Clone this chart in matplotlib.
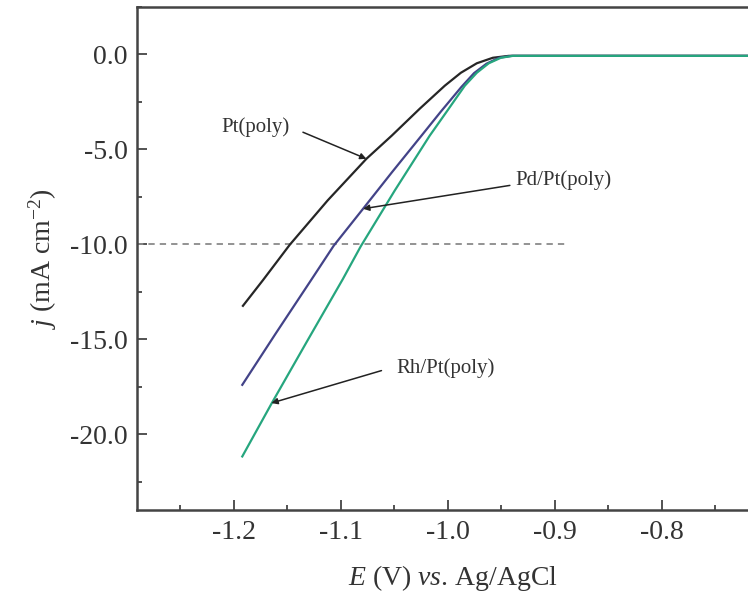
import matplotlib
matplotlib.use("Agg")
import matplotlib.pyplot as plt
from matplotlib.ticker import MultipleLocator, FormatStrFormatter

plt.rcParams['font.family'] = ['Liberation Serif', 'DejaVu Serif']
plt.rcParams['mathtext.fontset'] = 'custom'
plt.rcParams['mathtext.rm'] = 'Liberation Serif'
plt.rcParams['mathtext.it'] = 'Liberation Serif:italic'

# ---- data ----
E_pt = [-1.1913, -1.1726, -1.1476, -1.1121, -1.0759, -1.0522, -1.0260, -1.0026,
        -0.9876, -0.9727, -0.9577, -0.9428, -0.90, -0.80, -0.70]
j_pt = [-13.25, -11.90, -10.04, -7.70, -5.51, -4.29, -2.87, -1.66,
        -0.98, -0.48, -0.19, -0.09, -0.09, -0.09, -0.09]

E_pd = [-1.1919, -1.1607, -1.1280, -1.1065, -1.0790, -1.0522, -1.0244, -1.0064,
        -0.9870, -0.9753, -0.9636, -0.9519, -0.9402, -0.90, -0.80, -0.70]
j_pd = [-17.41, -14.71, -11.93, -10.09, -8.14, -6.23, -4.29, -3.03,
        -1.72, -1.00, -0.50, -0.19, -0.09, -0.09, -0.09, -0.09]

E_rh = [-1.1919, -1.1647, -1.1317, -1.0980, -1.0812, -1.0494, -1.0167, -1.0003,
        -0.9839, -0.9727, -0.9615, -0.9502, -0.9390, -0.90, -0.80, -0.70]
j_rh = [-21.18, -18.41, -15.15, -11.85, -10.12, -7.18, -4.29, -2.98,
        -1.66, -0.98, -0.48, -0.19, -0.09, -0.09, -0.09, -0.09]

ref_E = [-1.29, -0.89]
ref_j = [-10.0, -10.0]

labels = ["Pt(poly)", "Pd/Pt(poly)", "Rh/Pt(poly)"]
label_xy = [(-1.2115, -3.85), (-0.9371, -6.65), (-1.0478, -16.54)]
arrow_tail = [(-1.1352, -4.11), (-0.9418, -6.91), (-1.0618, -16.66)]
arrow_tip = [(-1.0759, -5.51), (-1.079, -8.14), (-1.1647, -18.37)]

xticks = [-1.2, -1.1, -1.0, -0.9, -0.8]
yticks = [0.0, -5.0, -10.0, -15.0, -20.0]

# ---- figure ----
fig = plt.figure(figsize=(7.48, 6.01), dpi=100)
ax = fig.add_axes([0.1836, 0.1514, 0.8439, 0.8375])

ax.plot(ref_E, ref_j, color='#8a8a8a', lw=1.3, ls=(0, (3.5, 2.8)))
ax.plot(E_pt, j_pt, color='#262626', lw=1.6)
ax.plot(E_pd, j_pd, color='#434388', lw=1.6)
ax.plot(E_rh, j_rh, color='#26a67e', lw=1.6)

for lab, xy, tail, tip in zip(labels, label_xy, arrow_tail, arrow_tip):
    ax.text(xy[0], xy[1], lab, fontsize=15, color='#333333', ha='left', va='center')
    ax.annotate('', xy=tip, xytext=tail,
                arrowprops=dict(arrowstyle='-|>', color='#222222', lw=1.1,
                                mutation_scale=9, shrinkA=0, shrinkB=0))

ax.set_xlim(-1.29, -0.70)
ax.set_ylim(-24.0, 2.5)
ax.set_xticks(xticks)
ax.set_yticks(yticks)
ax.xaxis.set_minor_locator(MultipleLocator(0.05))
ax.yaxis.set_minor_locator(MultipleLocator(2.5))
ax.xaxis.set_major_formatter(FormatStrFormatter('%.1f'))
ax.yaxis.set_major_formatter(FormatStrFormatter('%.1f'))

ax.tick_params(which='both', direction='in', top=False, right=False,
               color='#444444', width=1.3, labelsize=20, labelcolor='#333333')
ax.tick_params(which='major', length=7, pad=7)
ax.tick_params(which='minor', length=3.5)

for s in ax.spines.values():
    s.set_linewidth(1.8)
    s.set_color('#444444')

ax.set_xlabel(r'$\mathit{E}$ (V) $\mathit{vs}$. Ag/AgCl', fontsize=20, color='#333333', labelpad=13)
ax.set_ylabel(r'$\mathit{j}$ (mA cm$^{-2}$)', fontsize=20, color='#333333', labelpad=8)

fig.savefig('out.png', dpi=100)
